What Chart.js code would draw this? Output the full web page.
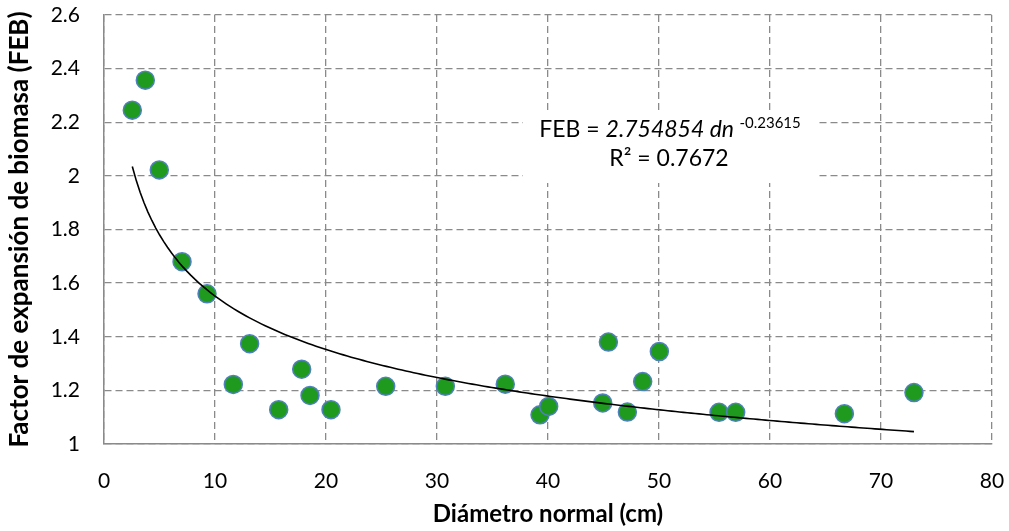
<!DOCTYPE html>
<html>
<head>
<meta charset="utf-8">
<script src="https://cdn.jsdelivr.net/npm/chart.js@4.4.1/dist/chart.umd.min.js"></script>
<style>
  html, body { margin: 0; padding: 0; background: #fff; }
  #wrap { width: 1009px; height: 531px; position: relative; }
</style>
</head>
<body>
<div id="wrap"><canvas id="c" width="1009" height="531"></canvas></div>
<script>
// ---- Data ----
const diametro = [2.55, 3.72, 4.98, 7.03, 9.28, 11.65, 13.12, 15.74, 17.81, 18.56, 20.45, 25.38, 30.75, 36.15, 39.28, 40.06, 44.93, 45.44, 47.15, 48.53, 50.03, 55.41, 56.91, 66.70, 72.97];
const feb      = [2.245, 2.357, 2.022, 1.680, 1.560, 1.222, 1.374, 1.128, 1.279, 1.181, 1.128, 1.215, 1.215, 1.223, 1.109, 1.140, 1.153, 1.380, 1.119, 1.233, 1.345, 1.118, 1.118, 1.113, 1.192];
const xTicks = [0, 10, 20, 30, 40, 50, 60, 70, 80];
const yTicks = [1, 1.2, 1.4, 1.6, 1.8, 2, 2.2, 2.4, 2.6];
const eqMain = "FEB = ";
const eqItalic = "2.754854 dn";
const eqExp = "-0.23615";
const eqR2 = "R\u00B2 = 0.7672";
const xTitle = "Diámetro normal (cm)";
const yTitle = "Factor de expansión de biomasa (FEB)";

// ---- Power trendline (least squares on ln x, ln y, as a spreadsheet trendline) ----
const pts = diametro.map((x, i) => ({ x: x, y: feb[i] }));
const lx = diametro.map(Math.log), ly = feb.map(Math.log);
const n = lx.length;
const mx = lx.reduce((a, b) => a + b, 0) / n, my = ly.reduce((a, b) => a + b, 0) / n;
let sxy = 0, sxx = 0;
for (let i = 0; i < n; i++) { sxy += (lx[i] - mx) * (ly[i] - my); sxx += (lx[i] - mx) ** 2; }
const bExp = sxy / sxx, aCoef = Math.exp(my - bExp * mx);
const xMin = Math.min(...diametro), xMax = Math.max(...diametro);
const trend = [];
for (let k = 0; k <= 200; k++) {
  const x = xMin + (xMax - xMin) * k / 200;
  trend.push({ x: x, y: aCoef * Math.pow(x, bExp) });
}

const FONT = "Lato, 'Open Sans', sans-serif";
const gridColor = '#8a8a8a';

const equationPlugin = {
  id: 'equation',
  beforeDatasetsDraw(chart) {
    const ctx = chart.ctx;
    ctx.save();
    ctx.fillStyle = '#ffffff';
    ctx.fillRect(523, 112, 294, 71);
    ctx.fillStyle = '#000';
    ctx.textBaseline = 'alphabetic';
    ctx.font = "23px " + FONT;
    const w1 = ctx.measureText(eqMain).width;
    ctx.font = "italic 23px " + FONT;
    const w2 = ctx.measureText(eqItalic + " ").width;
    ctx.font = "15px " + FONT;
    const w3 = ctx.measureText(eqExp).width;
    const total = w1 + w2 + w3;
    let x = 670 - total / 2;
    const base1 = 137;
    ctx.textAlign = 'left';
    ctx.font = "23px " + FONT;
    ctx.fillText(eqMain, x, base1); x += w1;
    ctx.font = "italic 23px " + FONT;
    ctx.fillText(eqItalic + " ", x, base1); x += w2;
    ctx.font = "15px " + FONT;
    ctx.fillText(eqExp, x, base1 - 9);
    ctx.font = "23px " + FONT;
    ctx.textAlign = 'center';
    ctx.fillText(eqR2, 669, 166);
    ctx.restore();
  }
};

new Chart(document.getElementById('c'), {
  type: 'scatter',
  data: {
    datasets: [
      {
        type: 'line',
        label: 'Tendencia',
        data: trend,
        borderColor: '#000',
        borderWidth: 1.6,
        pointRadius: 0,
        fill: false,
        tension: 0
      },
      {
        label: 'FEB',
        data: pts,
        backgroundColor: '#1f9a1f',
        borderColor: '#4f81bd',
        borderWidth: 1.5,
        pointRadius: 9,
        pointHoverRadius: 9
      }
    ]
  },
  options: {
    responsive: false,
    animation: false,
    layout: { padding: { top: 15, right: 17, left: 0, bottom: 0 } },
    plugins: { legend: { display: false }, tooltip: { enabled: false } },
    scales: {
      x: {
        type: 'linear',
        min: 0, max: 80,
        afterFit(s) { s.height = 87; },
        afterBuildTicks(s) { s.ticks = xTicks.map(v => ({ value: v })); },
        border: { display: true, color: gridColor, width: 1.5, dash: [7, 4] },
        grid: { color: gridColor, lineWidth: 1.3, drawTicks: true, tickLength: 25, tickColor: 'rgba(0,0,0,0)' },
        ticks: { color: '#000', font: { family: FONT, size: 21 }, padding: 0, maxRotation: 0, callback: v => String(v) },
        title: { display: true, text: xTitle, color: '#000', font: { family: FONT, size: 24, weight: 'bold' }, padding: { top: 0, bottom: 2 } }
      },
      y: {
        type: 'linear',
        min: 1, max: 2.6,
        afterFit(s) { s.width = 104; },
        afterBuildTicks(s) { s.ticks = yTicks.map(v => ({ value: v })); },
        border: { display: true, color: gridColor, width: 1.5, dash: [7, 4] },
        grid: { color: gridColor, lineWidth: 1.3, drawTicks: true, tickLength: 24, tickColor: 'rgba(0,0,0,0)' },
        ticks: { color: '#000', font: { family: FONT, size: 21 }, padding: 0, callback: v => String(Number(v.toFixed(1))) },
        title: { display: true, text: yTitle, color: '#000', font: { family: FONT, size: 26, weight: 'bold' }, padding: { top: 4, bottom: 0 } }
      }
    }
  },
  plugins: [equationPlugin]
});
</script>
</body>
</html>
